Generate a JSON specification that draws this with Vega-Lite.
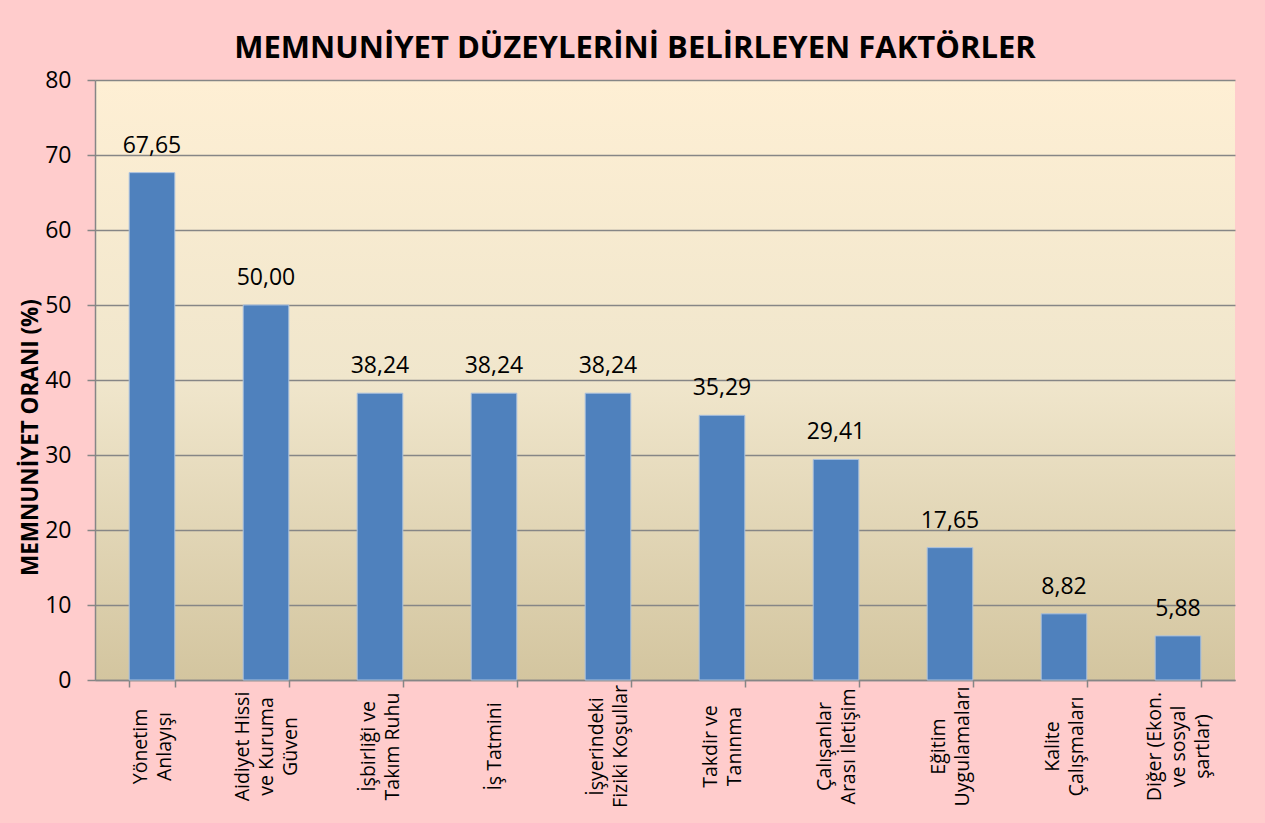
{
  "$schema": "https://vega.github.io/schema/vega-lite/v6.json",
  "width": 1140,
  "height": 600,
  "autosize": {"type": "none"},
  "padding": {"left": 95, "top": 80, "right": 30, "bottom": 143},
  "background": "#FFCCCC",
  "title": {
    "text": "MEMNUNİYET DÜZEYLERİNİ BELİRLEYEN FAKTÖRLER",
    "font": "Open Sans",
    "fontSize": 31,
    "fontWeight": "bold",
    "color": "#000000",
    "anchor": "middle",
    "frame": "group",
    "dx": -30,
    "baseline": "alphabetic",
    "offset": -20
  },
  "config": {
    "locale": {"number": {"decimal": ",", "thousands": ".", "grouping": [3], "currency": ["", " TL"]}},
    "view": {
      "stroke": null,
      "fill": {
        "gradient": "linear", "x1": 0, "y1": 0, "x2": 0, "y2": 1,
        "stops": [
          {"offset": 0, "color": "#FEEFD4"},
          {"offset": 0.5, "color": "#F0E6CC"},
          {"offset": 1, "color": "#D3C59F"}
        ]
      }
    }
  },
  "data": {
    "values": [
      {"faktor": "Yönetim\nAnlayışı", "oran": 67.65},
      {"faktor": "Aidiyet Hissi\nve Kuruma\nGüven", "oran": 50.00},
      {"faktor": "İşbirliği ve\nTakım Ruhu", "oran": 38.24},
      {"faktor": "İş Tatmini", "oran": 38.24},
      {"faktor": "İşyerindeki\nFiziki Koşullar", "oran": 38.24},
      {"faktor": "Takdir ve\nTanınma", "oran": 35.29},
      {"faktor": "Çalışanlar\nArası İletişim", "oran": 29.41},
      {"faktor": "Eğitim\nUygulamaları", "oran": 17.65},
      {"faktor": "Kalite\nÇalışmaları", "oran": 8.82},
      {"faktor": "Diğer (Ekon.\nve sosyal\nşartlar)", "oran": 5.88}
    ]
  },
  "encoding": {
    "x": {
      "field": "faktor",
      "type": "nominal",
      "sort": null,
      "scale": {"paddingInner": 0.6, "paddingOuter": 0.3},
      "axis": {
        "title": null,
        "labelExpr": "datum.value ? split(datum.value, '\\n') : ''",
        "labelAngle": -90,
        "labelAlign": "center",
        "labelBaseline": "middle",
        "labelPadding": 59,
        "labelLineHeight": 24,
        "labelOffset": {
          "condition": [
            {"test": "datum.value && length(split(datum.value, '\\n')) == 3", "value": -24},
            {"test": "datum.value && length(split(datum.value, '\\n')) == 2", "value": -12}
          ],
          "value": 0
        },
        "labelFont": "Open Sans",
        "labelFontSize": 19.5,
        "labelColor": "#000000",
        "labelOverlap": false,
        "labelBound": false,
        "labelLimit": 400,
        "tickBand": "extent",
        "tickSize": 7,
        "tickColor": "#868686",
        "tickWidth": 1.5,
        "domainColor": "#868686",
        "domainWidth": 1.5,
        "grid": false
      }
    },
    "y": {
      "field": "oran",
      "type": "quantitative",
      "scale": {"domain": [0, 80], "nice": false},
      "axis": {
        "title": "MEMNUNİYET ORANI (%)",
        "titleFont": "Open Sans",
        "titleFontSize": 22.5,
        "titleFontWeight": "bold",
        "titleColor": "#000000",
        "titlePadding": 2,
        "titleY": 357,
        "values": [0, 10, 20, 30, 40, 50, 60, 70, 80],
        "format": "d",
        "labelFont": "Open Sans",
        "labelFontSize": 23,
        "labelColor": "#000000",
        "labelPadding": 16,
        "tickSize": 8,
        "tickColor": "#868686",
        "tickWidth": 1.5,
        "domainColor": "#868686",
        "domainWidth": 1.5,
        "grid": true,
        "gridColor": "#868686",
        "gridWidth": 1.5
      }
    }
  },
  "layer": [
    {
      "mark": {"type": "bar", "color": "#4F81BD", "stroke": "#A9C0DE", "strokeWidth": 1}
    },
    {
      "mark": {"type": "text", "font": "Open Sans", "fontSize": 23, "color": "#000000", "baseline": "alphabetic", "dy": -20},
      "encoding": {
        "text": {"field": "oran", "type": "quantitative", "format": ".2f"}
      }
    }
  ]
}
